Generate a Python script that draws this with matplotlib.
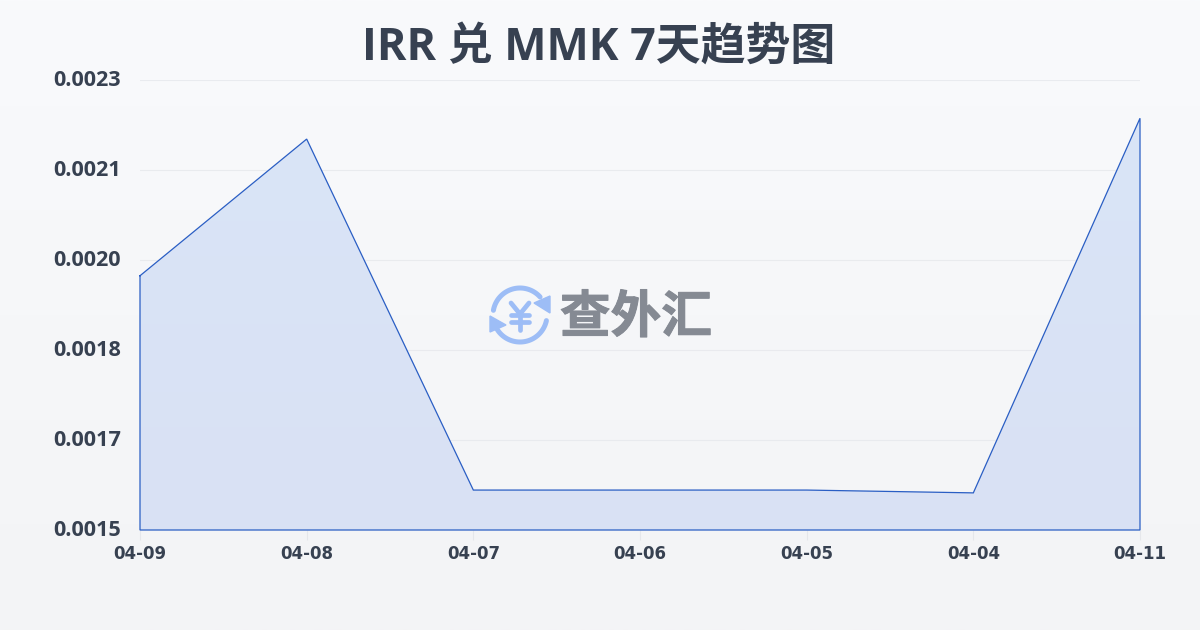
import numpy as np
import matplotlib
matplotlib.use("Agg")
from matplotlib import pyplot as plt
from matplotlib.colors import LinearSegmentedColormap
from matplotlib.patches import Polygon
from matplotlib.patheffects import withStroke
from matplotlib.transforms import ScaledTranslation

dates = ["04-09", "04-08", "04-07", "04-06", "04-05", "04-04", "04-11"]
rates = [0.001952, 0.002195, 0.001571, 0.001571, 0.001571, 0.001566, 0.002232]
y_ticks = [0.0015, 0.00166, 0.00182, 0.00198, 0.00214, 0.0023]
y_labels = ["0.0015", "0.0017", "0.0018", "0.0020", "0.0021", "0.0023"]
title = "IRR 兑 MMK 7天趋势图"
watermark = "查外汇"

plt.rcParams['font.family'] = ['Noto Sans CJK SC', 'DejaVu Sans']
latin = ['Open Sans', 'Noto Sans CJK SC', 'DejaVu Sans']

ink = "#374151"
line_blue = "#2a5ec4"
W, H = 1200, 630

fig = plt.figure(figsize=(12, 6.3), dpi=100)

# page background, slight vertical gradient
bg = fig.add_axes([0, 0, 1, 1], zorder=0)
bg.imshow(np.linspace(0, 1, 256).reshape(-1, 1), aspect="auto", extent=[0, 1, 0, 1],
          cmap=LinearSegmentedColormap.from_list("bg", ["#f9fafc", "#f3f4f6"]))
bg.axis("off")

# plot area 140..1140 x 80..530 px
ax = fig.add_axes([140 / W, 1 - 530 / H, 1000 / W, 450 / H], zorder=1)
ax.patch.set_alpha(0)
x = np.arange(len(dates))
area = ax.fill_between(x, rates, y_ticks[0], facecolor="none", edgecolor="none")
grad = ax.imshow(np.linspace(0, 1, 256).reshape(-1, 1), aspect="auto", zorder=2,
                 extent=[x[0], x[-1], y_ticks[0], max(rates)],
                 cmap=LinearSegmentedColormap.from_list("fill", ["#dae5f7", "#d9e1f4"]))
grad.set_clip_path(area.get_paths()[0], transform=ax.transData)
ax.plot(list(x) + [x[-1], x[0], x[0]],
        rates + [y_ticks[0], y_ticks[0], rates[0]],
        color=line_blue, lw=0.9, zorder=3, solid_joinstyle="miter", clip_on=False)

ax.set_xlim(0, len(dates) - 1)
ax.set_ylim(y_ticks[0], y_ticks[-1])
ax.set_yticks(y_ticks)
ax.set_yticklabels(y_labels, family=latin, fontsize=15.6, fontweight="bold", color=ink)
ax.set_xticks(x)
ax.set_xticklabels(dates, family="DejaVu Sans", fontsize=12, fontweight="bold", color=ink)
ax.tick_params(axis="y", length=0, pad=13.5)
ax.tick_params(axis="x", length=7, width=0.8, color="#e5e7eb", pad=3.5)
ax.grid(axis="y", color="#e5e7eb", lw=0.8, zorder=1)
for gl in ax.get_ygridlines():
    gl.set_zorder(4)
    gl.set_alpha(0.75)
for lab in ax.get_yticklabels():
    lab.set_transform(lab.get_transform() + ScaledTranslation(0, 2 / 100, fig.dpi_scale_trans))
for s in ax.spines.values():
    s.set_visible(False)

fig.text(0.4992, 1 - 48 / H, title, ha="center", va="center", family=latin, fontsize=32.3, fontweight="bold", color=ink)

# watermark logo, drawn in pixel coordinates
ov = fig.add_axes([0, 0, 1, 1], zorder=5)
ov.set_xlim(0, W)
ov.set_ylim(H, 0)
ov.axis("off")
logo_blue = "#9dbdf6"
for a0, a1 in [(170, 42), (-155, -12)]:
    t = np.radians(np.linspace(a0, a1, 50))
    ov.plot(520 + 27 * np.cos(t), 315 - 27 * np.sin(t), color=logo_blue, lw=3.6, solid_capstyle="round")
ov.add_patch(Polygon([(550, 296), (550, 313), (534, 303)], color=logo_blue))
ov.add_patch(Polygon([(490, 316), (490, 332), (506, 325)], color=logo_blue))
yen = [((511, 303), (520, 314)), ((529, 303), (520, 314)), ((511, 315), (529, 315)),
       ((511, 322), (529, 322)), ((520, 314), (520, 330))]
for (x0, y0), (x1, y1) in yen:
    ov.plot([x0, x1], [y0, y1], color=logo_blue, lw=3.4, solid_capstyle="round")
ov.text(636, 318, watermark, ha="center", va="center", fontsize=36.5, fontweight="bold", color="#858a93",
        path_effects=[withStroke(linewidth=0.7, foreground="#858a93")])

fig.savefig("out.png", dpi=100)
